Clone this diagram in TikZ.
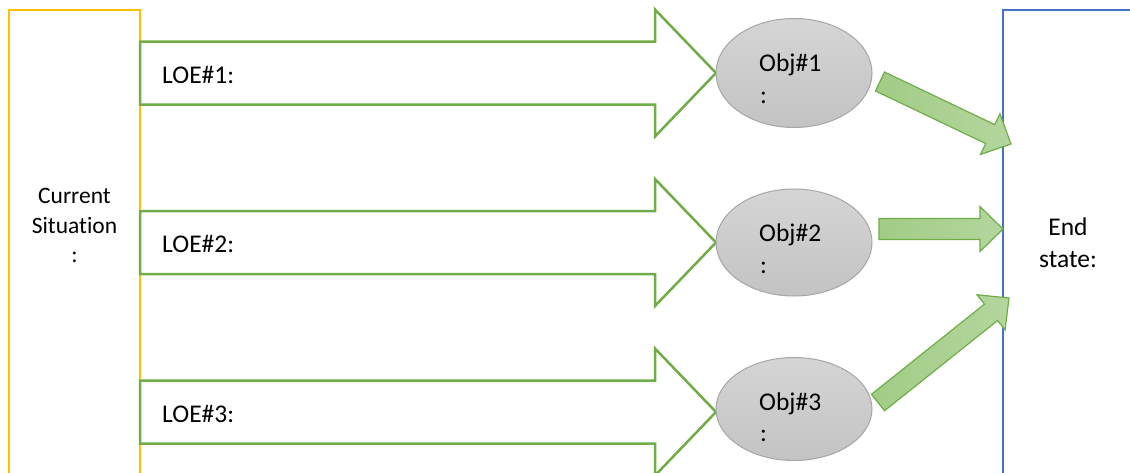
\documentclass[tikz,border=0pt]{standalone}
\usepackage{fontspec}
\setmainfont{Carlito}[Ligatures=NoCommon]
\usetikzlibrary{calc,shapes.geometric}
\definecolor{yel}{HTML}{FFC000}
\definecolor{grn}{HTML}{70AD47}
\definecolor{blu}{HTML}{4472C4}
\definecolor{gtop}{HTML}{D5D5D5}
\definecolor{gbot}{HTML}{C3C3C3}
\definecolor{gbrd}{HTML}{A6A6A6}
\definecolor{lgA}{HTML}{A2CC86}
\definecolor{lgB}{HTML}{B3D69D}
\tikzset{
 lbl/.style={font=\fontsize{25.5}{31}\selectfont, inner sep=0pt},
 lblsm/.style={font=\fontsize{23.5}{29}\selectfont, inner sep=0pt},
 bigarrow/.style={draw=grn, line width=2.5pt, fill=white, line join=miter},
 objell/.style={ellipse, draw=gbrd, line width=1pt, top color=gtop, bottom color=gbot, minimum width=156pt, inner sep=0pt},
 smallarrow/.style={draw=grn, line width=1.2pt, left color=lgA, right color=lgB, line join=miter},
}
\newcommand\bigarr[1]{%
  \draw[bigarrow] (140,#1-31.5) -- (655,#1-31.5) -- (655,#1-63.5) -- (716,#1)
    -- (655,#1+63.5) -- (655,#1+31.5) -- (140,#1+31.5) -- cycle;}
\newcommand\fatarr[2]{%
  \path ($(#2)!23pt!(#1)$) coordinate (hb);
  \draw[smallarrow] ($(#1)!10.5pt!-90:(#2)$) -- ($(hb)!10.5pt!-90:(#2)$)
    -- ($(hb)!22.5pt!-90:(#2)$) -- (#2) -- ($(hb)!22.5pt!90:(#2)$)
    -- ($(hb)!10.5pt!90:(#2)$) -- ($(#1)!10.5pt!90:(#2)$) -- cycle;}
\begin{document}
\begin{tikzpicture}[x=1pt,y=-1pt]
\useasboundingbox (0,0) rectangle (1130,472);
\clip (0,0) rectangle (1130,472);
\fill[white] (0,0) rectangle (1130,472);
% boxes
\draw[yel, line width=2.5pt] (9,500) -- (9,10) -- (140,10) -- (140,500);
\draw[blu, line width=2.5pt] (1003,500) -- (1003,10) -- (1140,10);
% big arrows
\bigarr{73}
\bigarr{242.5}
\bigarr{412}
% ellipses
\node[objell, minimum height=109pt] (obj1) at (794,73) {};
\node[objell, minimum height=107pt] (obj2) at (794,242.5) {};
\node[objell, minimum height=103pt] (obj3) at (794,409) {};
% texts
\node[lbl, anchor=base west] (o1a) at (759,71) {Obj\#1};
\node[lbl, anchor=base west] (o1b) at (760,103) {:};
\node[lbl, anchor=base west] (o2a) at (759,241) {Obj\#2};
\node[lbl, anchor=base west] (o2b) at (760,273) {:};
\node[lbl, anchor=base west] (o3a) at (759,410) {Obj\#3};
\node[lbl, anchor=base west] (o3b) at (760,441) {:};
\node[lbl, anchor=base west] (l1) at (162,83) {LOE\#1:};
\node[lbl, anchor=base west] (l2) at (162,252) {LOE\#2:};
\node[lbl, anchor=base west] (l3) at (162,422) {LOE\#3:};
\node[lblsm, anchor=base] (c1) at (74.5,203) {Current};
\node[lblsm, anchor=base] (c2) at (74.5,233) {Situation};
\node[lblsm, anchor=base] (c3) at (74.5,262) {:};
\node[lbl, anchor=base] (e1) at (1068,235) {End};
\node[lbl, anchor=base] (e2) at (1068,267) {state:};
% small arrows
\coordinate (a1s) at (880,81.5);
\coordinate (a1e) at (1011,144);
\coordinate (a2s) at (879,229);
\coordinate (a2e) at (1003,229);
\coordinate (a3s) at (878,402.5);
\coordinate (a3e) at (1009,298);
\fatarr{a1s}{a1e}
\fatarr{a2s}{a2e}
\fatarr{a3s}{a3e}
\end{tikzpicture}
\end{document}
